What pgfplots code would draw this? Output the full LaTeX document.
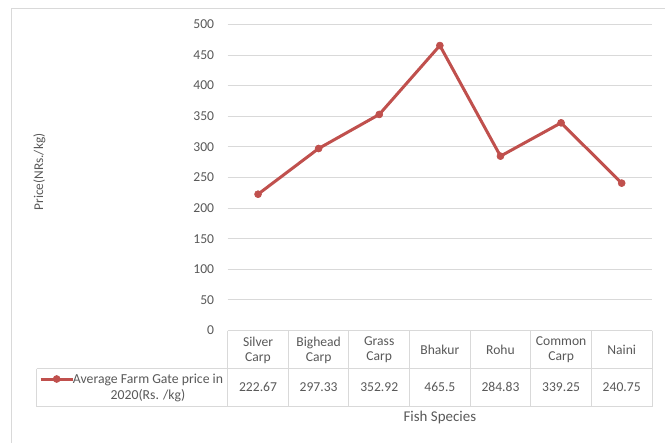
\documentclass[border=0pt]{standalone}
\usepackage{pgfplots}
\pgfplotsset{compat=1.18}
\usepackage{fontspec}
\setmainfont{Carlito}
\definecolor{txt}{HTML}{595959}
\definecolor{grd}{HTML}{D9D9D9}
\definecolor{ln}{HTML}{C0504D}
\begin{document}
\begin{tikzpicture}
\path[use as bounding box, clip] (0,0) rectangle (498.75pt,-332.25pt);
\fill[white] (0,0) rectangle (498.75pt,-332.25pt);
\draw[grd, line width=0.75pt] (8.8pt,-400pt) -- (8.8pt,-6.2pt) -- (600pt,-6.2pt);
\begin{axis}[
  at={(170.8pt,-247.9pt)}, anchor=south west,
  scale only axis, width=318.2pt, height=229.6pt,
  xmin=-0.5, xmax=6.5, ymin=0, ymax=500,
  xtick=\empty, ytick={0,50,...,500},
  ymajorgrids, grid style={grd, line width=0.75pt},
  axis line style={draw=none},
  major tick length=0pt,
  yticklabel style={font=\fontsize{10.2}{12}\selectfont, text=txt, inner sep=0pt, xshift=-10pt},
  /pgf/number format/assume math mode=true,
  clip=false,
]
\addplot[ln, line width=2.25pt, line join=round, mark=*, mark size=2.6pt, mark options={solid, line width=0.5pt}] coordinates {(0,222.67)(1,297.33)(2,352.92)(3,465.5)(4,284.83)(5,339.25)(6,240.75)};
\end{axis}
% legend key and text
\draw[ln, line width=2.25pt] (30.5pt,-284.25pt) -- (54.5pt,-284.25pt);
\node[circle, fill=ln, draw=ln, line width=0.5pt, inner sep=0pt, minimum size=5.2pt] at (42.5pt,-284.25pt) {};
\node[font=\fontsize{10.3}{12.5}\selectfont, text=txt, align=center, inner sep=0pt, anchor=base] at (111pt,-299.75pt) {Average Farm Gate price in\\2020(Rs. /kg)};
\foreach \k in {0,...,7} \draw[grd, line width=0.75pt] ({170.8pt+\k*45.457pt},-247.9pt) -- ({170.8pt+\k*45.457pt},-305pt);
\draw[grd, line width=0.75pt] (27.5pt,-276.5pt) -- (489pt,-276.5pt);
\draw[grd, line width=0.75pt] (27.5pt,-305pt) -- (489pt,-305pt);
\draw[grd, line width=0.75pt] (27.5pt,-276.5pt) -- (27.5pt,-305pt);
\foreach \n/\lab/\val in {0/{Silver\\Carp}/222.67, 1/{Bighead\\Carp}/297.33, 2/{Grass\\Carp}/352.92, 3/{Bhakur}/465.5, 4/{Rohu}/284.83, 5/{Common\\Carp}/339.25, 6/{Naini}/240.75} {
  \node[align=center, font=\fontsize{10.2}{11.25}\selectfont, text=txt, inner sep=0pt] at ({170.8pt+(\n+0.5)*45.457pt},-262.5pt) {\lab};
  \node[font=\fontsize{10.2}{12}\selectfont, text=txt, inner sep=0pt] at ({170.8pt+(\n+0.5)*45.457pt},-290pt) {\val};
}
\node[font=\fontsize{11.2}{13}\selectfont, text=txt] at (329.9pt,-313.3pt) {Fish Species};
\node[font=\fontsize{10}{12}\selectfont, text=txt, rotate=90] at (29.5pt,-129pt) {Price(NRs./kg)};
\end{tikzpicture}
\end{document}
